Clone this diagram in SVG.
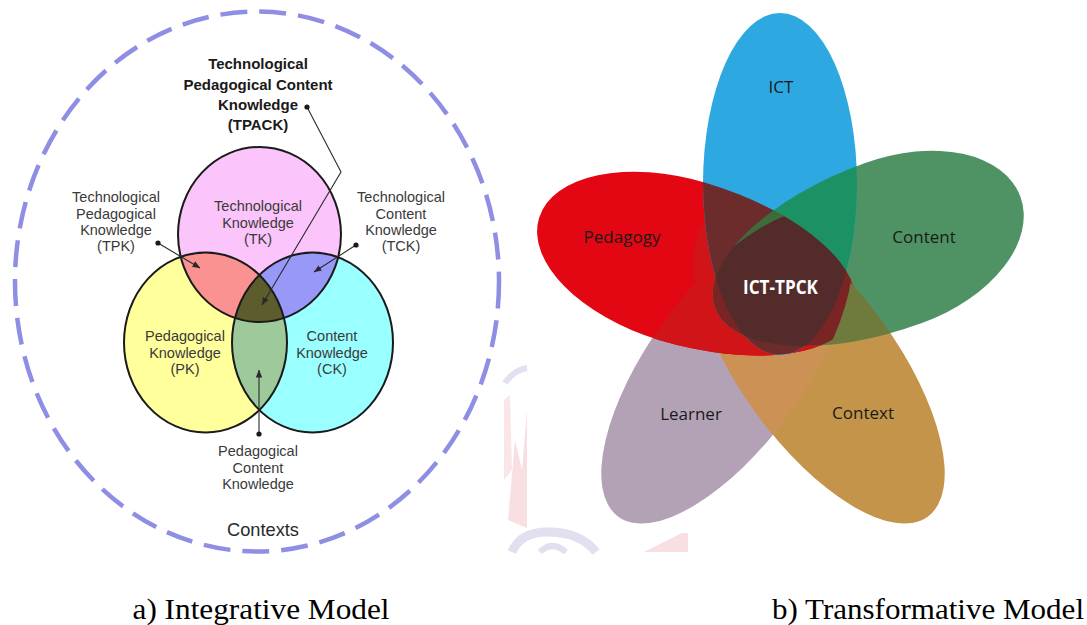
<svg xmlns="http://www.w3.org/2000/svg" xmlns:xlink="http://www.w3.org/1999/xlink" width="1087" height="625" viewBox="0 0 1087 625">
  <style>
    .lbl { font-family: "Liberation Sans", Arial, sans-serif; font-size: 14.5px; fill: #3a3a3a; text-anchor: middle; }
    .ttl { font-family: "Liberation Sans", Arial, sans-serif; font-size: 15px; font-weight: bold; fill: #1a1a1a; text-anchor: middle; }
    .ctx { font-family: "Liberation Sans", Arial, sans-serif; font-size: 19px; fill: #2a2a2a; text-anchor: middle; }
    .ring { fill: none; stroke: #1a1a1a; stroke-width: 2; }
    .lead { fill: none; stroke: #2a2a2a; stroke-width: 1.1; }
    .dot { fill: #1a1a1a; }
    .pt { font-family: "Open Sans", "Noto Sans", sans-serif; font-size: 17px; fill: #1a1a1a; text-anchor: middle; }
    .core { font-family: "Open Sans", "Noto Sans", sans-serif; font-size: 19px; font-weight: bold; fill: #ffffff; text-anchor: middle; }
    .cap { font-family: "Liberation Serif", "Times New Roman", serif; font-size: 30px; fill: #000000; text-anchor: middle; }
  </style>
  <defs>
    <!-- Venn sets -->
    <ellipse id="eTK" cx="259.5" cy="234.5" rx="81.5" ry="87.5"/>
    <ellipse id="ePK" cx="205.5" cy="342.5" rx="81.5" ry="90"/>
    <ellipse id="eCK" cx="312.5" cy="342.5" rx="80.5" ry="90"/>
    <clipPath id="cTK"><use xlink:href="#eTK"/></clipPath>
    <clipPath id="cPK"><use xlink:href="#ePK"/></clipPath>
    <clipPath id="cCK"><use xlink:href="#eCK"/></clipPath>

    <!-- flower petals; egg outlines are drawn with the narrow end toward the middle -->
    <ellipse id="pICT" cx="780" cy="184" rx="77" ry="171"/>
    <path id="pPed" d="M0,-82 A180,82 0 0 1 0,82 A150,82 0 0 1 0,-82 Z" transform="translate(682.6 261.4) rotate(16.8)"/>
    <path id="pCon" d="M0,-85 A190,85 0 0 1 0,85 A135,85 0 0 1 0,-85 Z" transform="translate(893.6 243) rotate(160)"/>
    <ellipse id="pLea" cx="727" cy="367" rx="185" ry="78" transform="rotate(-54 727 367)"/>
    <ellipse id="pCtx" cx="819" cy="367" rx="185" ry="78" transform="rotate(54 819 367)"/>
    <clipPath id="cICT"><use xlink:href="#pICT"/></clipPath>
    <clipPath id="cPed"><use xlink:href="#pPed"/></clipPath>
    <clipPath id="cCon"><use xlink:href="#pCon"/></clipPath>
    <clipPath id="cLea"><use xlink:href="#pLea"/></clipPath>
    <clipPath id="cCtx"><use xlink:href="#pCtx"/></clipPath>

    <marker id="ah" viewBox="0 0 10 10" refX="9.5" refY="5" markerWidth="8" markerHeight="8" markerUnits="userSpaceOnUse" orient="auto">
      <path d="M0,1 L10,5 L0,9 z" fill="#2a2a2a"/>
    </marker>
  </defs>

  <rect x="0" y="0" width="1087" height="625" fill="#ffffff"/>

  <!-- faint background emblem behind the flower panel -->
  <g id="emblem" opacity="0.55">
    <path d="M505,383 Q514,370 527,368" fill="none" stroke="#c9c9e6" stroke-width="6"/>
    <path d="M508,520 L515,440 L522,470 L527,410 L527,528 Z" fill="#f4c6c9"/>
    <path d="M504,400 L510,395 L512,470 L504,480 Z" fill="#f6d3d6"/>
    <path d="M512,552 Q520,532 548,532 Q580,532 596,552" fill="none" stroke="#c7c7e4" stroke-width="9"/>
    <path d="M540,552 Q552,540 566,552" fill="none" stroke="#c7c7e4" stroke-width="6"/>
    <path d="M644,552 L682,533 L688,533 L688,552 Z" fill="#f4c6c9"/>
  </g>

  <!-- Integrative model -->
  <g id="contexts">
    <ellipse cx="257" cy="281.5" rx="242" ry="270" fill="none" stroke="#8e8ee4" stroke-width="4.5" stroke-dasharray="27 12"/>
    <text class="ctx" x="263" y="536" textLength="72" lengthAdjust="spacingAndGlyphs">Contexts</text>
  </g>

  <g id="venn">
    <use xlink:href="#ePK" fill="#ffff9c"/>
    <use xlink:href="#eCK" fill="#9affff"/>
    <use xlink:href="#eTK" fill="#fbc4fb"/>
    <g clip-path="url(#cPK)"><use xlink:href="#eCK" fill="#9dc99b"/></g>
    <g clip-path="url(#cTK)">
      <use xlink:href="#ePK" fill="#fa9292"/>
      <use xlink:href="#eCK" fill="#9898f8"/>
      <g clip-path="url(#cPK)"><use xlink:href="#eCK" fill="#5c5c2c"/></g>
    </g>
  </g>

  <g id="TK">
    <use xlink:href="#eTK" class="ring"/>
    <text class="lbl" x="258" y="211">Technological</text>
    <text class="lbl" x="258" y="227.5">Knowledge</text>
    <text class="lbl" x="258" y="244">(TK)</text>
  </g>
  <g id="PK">
    <use xlink:href="#ePK" class="ring"/>
    <text class="lbl" x="185" y="341">Pedagogical</text>
    <text class="lbl" x="185" y="357.5">Knowledge</text>
    <text class="lbl" x="185" y="374">(PK)</text>
  </g>
  <g id="CK">
    <use xlink:href="#eCK" class="ring"/>
    <text class="lbl" x="332" y="341">Content</text>
    <text class="lbl" x="332" y="357.5">Knowledge</text>
    <text class="lbl" x="332" y="374">(CK)</text>
  </g>

  <g id="TPACK">
    <text class="ttl" x="258" y="69">Technological</text>
    <text class="ttl" x="258" y="89.5">Pedagogical Content</text>
    <text class="ttl" x="258" y="110">Knowledge</text>
    <text class="ttl" x="258" y="130">(TPACK)</text>
  </g>
  <g id="TPK">
    <text class="lbl" x="116" y="202">Technological</text>
    <text class="lbl" x="116" y="218.5">Pedagogical</text>
    <text class="lbl" x="116" y="234.5">Knowledge</text>
    <text class="lbl" x="116" y="250.5">(TPK)</text>
  </g>
  <g id="TCK">
    <text class="lbl" x="401" y="202">Technological</text>
    <text class="lbl" x="401" y="218.5">Content</text>
    <text class="lbl" x="401" y="234.5">Knowledge</text>
    <text class="lbl" x="401" y="250.5">(TCK)</text>
  </g>
  <g id="PCK">
    <text class="lbl" x="258" y="456">Pedagogical</text>
    <text class="lbl" x="258" y="472.5">Content</text>
    <text class="lbl" x="258" y="488.5">Knowledge</text>
  </g>

  <g id="connectors">
    <polyline class="lead" points="307,107 341,172 262,305" marker-end="url(#ah)"/>
    <line class="lead" x1="158" y1="243" x2="200" y2="268" marker-end="url(#ah)"/>
    <line class="lead" x1="356" y1="245" x2="314" y2="272" marker-end="url(#ah)"/>
    <line class="lead" x1="259" y1="434" x2="259" y2="370" marker-end="url(#ah)"/>
    <circle class="dot" cx="307" cy="107" r="2.6"/>
    <circle class="dot" cx="158" cy="243" r="2.6"/>
    <circle class="dot" cx="356" cy="245" r="2.6"/>
    <circle class="dot" cx="259" cy="434" r="2.6"/>
  </g>

  <!-- Transformative model: five overlapping petals -->
  <g id="petals">
    <g id="learner"><use xlink:href="#pLea" fill="#b3a2b6"/></g>
    <g id="context"><use xlink:href="#pCtx" fill="#c4944a"/></g>
    <g clip-path="url(#cLea)"><use xlink:href="#pCtx" fill="#cc9155"/></g>
    <g id="pedagogy"><use xlink:href="#pPed" fill="#e30613"/></g>
    <g clip-path="url(#cPed)">
      <use xlink:href="#pLea" fill="#d01418"/>
      <use xlink:href="#pCtx" fill="#d01418"/>
    </g>
    <g id="content"><use xlink:href="#pCon" fill="#4f9263"/></g>
    <g clip-path="url(#cCon)">
      <use xlink:href="#pPed" fill="#d01418"/>
      <use xlink:href="#pCtx" fill="#6f7a3d"/>
    </g>
    <g id="ict"><use xlink:href="#pICT" fill="#2ea8e0"/></g>
    <g clip-path="url(#cICT)">
      <use xlink:href="#pCon" fill="#1c9264"/>
      <use xlink:href="#pPed" fill="#6c2c2b"/>
      <g clip-path="url(#cPed)"><use xlink:href="#pCon" fill="#3e6b3c"/></g>
    </g>
    <g id="ict-tpck">
      <g clip-path="url(#cLea)">
        <g clip-path="url(#cCon)">
          <use xlink:href="#pPed" fill="#7a2426"/>
          <g clip-path="url(#cICT)"><use xlink:href="#pPed" fill="#532b2a"/></g>
        </g>
      </g>
      <text class="core" x="780.5" y="294" textLength="75" lengthAdjust="spacingAndGlyphs">ICT-TPCK</text>
    </g>
  </g>

  <g id="petal-labels">
    <text class="pt" x="781" y="93">ICT</text>
    <text class="pt" x="622" y="243">Pedagogy</text>
    <text class="pt" x="924" y="243">Content</text>
    <text class="pt" x="691" y="420">Learner</text>
    <text class="pt" x="863" y="419">Context</text>
  </g>

  <g id="captions">
    <text class="cap" x="261" y="619" textLength="257" lengthAdjust="spacingAndGlyphs">a) Integrative Model</text>
    <text class="cap" x="928" y="619" textLength="312" lengthAdjust="spacingAndGlyphs">b) Transformative Model</text>
  </g>
</svg>
